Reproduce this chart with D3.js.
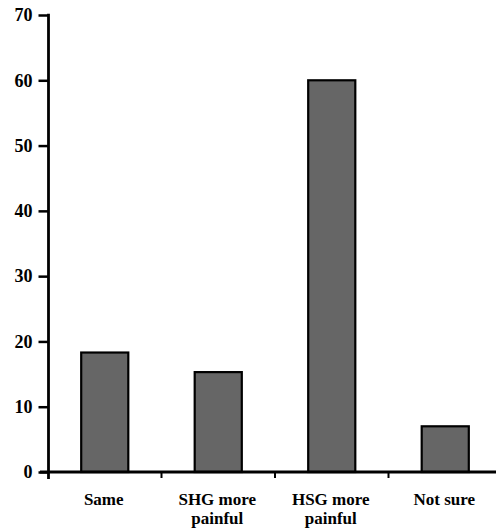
<!DOCTYPE html>
<html><head><meta charset="utf-8">
<script src="https://cdn.jsdelivr.net/npm/d3@7"></script>
<style>html,body{margin:0;padding:0;background:#fff;}</style>
</head><body>
<script>
const categories = [["Same"], ["SHG more","painful"], ["HSG more","painful"], ["Not sure"]];
const values = [18.3, 15.3, 60, 7];
const yTicks = [0, 10, 20, 30, 40, 50, 60, 70];

const W = 496, H = 531;
const svg = d3.select("body").append("svg").attr("width", W).attr("height", H);
const font = "Liberation Serif";

const keys = categories.map(c => c.join(" "));
const x = d3.scaleBand().domain(keys).range([48, 502]).paddingInner(0.585).paddingOuter(0.2925);
const y = d3.scaleLinear().domain([0, 70]).range([472, 15]);

// bars
svg.selectAll("rect.bar").data(values).enter().append("rect")
  .attr("x", (d, i) => x(keys[i]))
  .attr("y", d => y(d))
  .attr("width", x.bandwidth())
  .attr("height", d => y(0) - y(d))
  .attr("fill", "#666666").attr("stroke", "#000").attr("stroke-width", 2.2);

// y axis
const yAxis = d3.axisLeft(y).tickValues(yTicks).tickSize(10).tickPadding(6);
const gy = svg.append("g").attr("transform", "translate(48.5,0)").call(yAxis);
gy.select(".domain").remove();
gy.selectAll(".tick line").attr("stroke", "#000").attr("stroke-width", 2.5);
gy.selectAll(".tick text").style("font-family", font).style("font-weight", "bold")
  .style("font-size", "18px").attr("fill", "#000");
svg.append("line").attr("x1", 48.5).attr("x2", 48.5).attr("y1", y(70) - 1.2).attr("y2", y(0) + 7)
  .attr("stroke", "#000").attr("stroke-width", 2.8);

// x axis
svg.append("line").attr("x1", 40).attr("x2", 502).attr("y1", y(0)).attr("y2", y(0))
  .attr("stroke", "#000").attr("stroke-width", 2.8);
const step = x.step();
const bounds = keys.slice(1).map(k => x(k) - (step - x.bandwidth()) / 2);
svg.selectAll("line.xt").data(bounds).enter().append("line")
  .attr("x1", d => d).attr("x2", d => d).attr("y1", y(0)).attr("y2", y(0) + 6)
  .attr("stroke", "#000").attr("stroke-width", 2);

// category labels
categories.forEach((lines, i) => {
  const cx = x(keys[i]) + x.bandwidth() / 2 - 1;
  lines.forEach((l, j) => {
    svg.append("text").attr("text-anchor", "middle")
      .style("font-family", font).style("font-weight", "bold").style("font-size", "17px").attr("fill", "#000")
      .attr("x", cx).attr("y", 505 + j * 19).text(l);
  });
});
</script>
</body></html>
